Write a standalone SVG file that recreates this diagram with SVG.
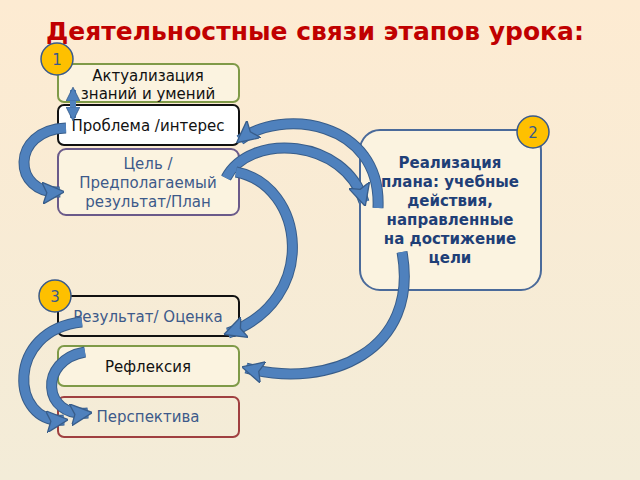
<svg xmlns="http://www.w3.org/2000/svg" width="640" height="480" viewBox="0 0 640 480">
<defs>
<linearGradient id="bg" x1="0" y1="0" x2="0" y2="1"><stop offset="0" stop-color="#fdebd2"/><stop offset="1" stop-color="#f3ecd8"/></linearGradient>
<marker id="ah" viewBox="0 0 10 10" refX="8" refY="5" markerWidth="22" markerHeight="22" markerUnits="userSpaceOnUse" orient="auto-start-reverse"><path d="M0,0 L10,5 L0,10 L2,5 Z" fill="#4f81bd" stroke="#385d8a" stroke-width="0.6"/></marker>
<marker id="ahs" viewBox="0 0 10 10" refX="8" refY="5" markerWidth="14" markerHeight="14" markerUnits="userSpaceOnUse" orient="auto-start-reverse"><path d="M0,0 L10,5 L0,10 Z" fill="#4f81bd" stroke="#385d8a" stroke-width="0.6"/></marker>
</defs>
<style>
text{font-family:"DejaVu Sans","Noto Sans",sans-serif;text-anchor:middle}
.box{stroke-width:2}
.t{font-size:15px}
.num{fill:#fec000;stroke:#3a5a8a;stroke-width:1.5}
.c{fill:none;stroke:#4f81bd;stroke-width:9;stroke-linecap:butt;marker-end:url(#ah)}
.co{fill:none;stroke:#385d8a;stroke-width:11}
</style>
<rect width="640" height="480" fill="url(#bg)"/>
<text x="315" y="40" font-size="25" font-weight="bold" fill="#c00000">Деятельностные связи этапов урока:</text>
<g id="n1"><rect class="box" x="58" y="64" width="181" height="38" rx="6" fill="#fbf3e0" stroke="#7f9a48"/><text class="t" x="148" y="81" fill="#111">Актуализация</text><text class="t" x="148" y="99" fill="#111">знаний и умений</text></g>
<g id="n2"><rect class="box" x="58" y="105" width="181" height="40" rx="6" fill="#fff" stroke="#111"/><text class="t" x="148" y="131" fill="#111">Проблема /интерес</text></g>
<g id="n3"><rect class="box" x="58" y="149" width="181" height="66" rx="8" fill="#fbf3e0" stroke="#6a5a8a"/><text class="t" x="148" y="169" fill="#3d5a8a">Цель /</text><text class="t" x="148" y="188" fill="#3d5a8a">Предполагаемый</text><text class="t" x="148" y="207" fill="#3d5a8a">результат/План</text></g>
<g id="n4"><rect class="box" x="360" y="130" width="181" height="160" rx="20" fill="#fbf3e0" stroke="#4a6a9a"/><g font-weight="bold" fill="#1f3f77" font-size="15"><text x="450" y="168">Реализация</text><text x="450" y="187">плана: учебные</text><text x="450" y="206">действия,</text><text x="450" y="225">направленные</text><text x="450" y="244">на достижение</text><text x="450" y="263">цели</text></g></g>
<g id="n5"><rect class="box" x="58" y="296" width="181" height="40" rx="6" fill="none" stroke="#111"/><text class="t" x="148" y="322" fill="#3d5a8a">Результат/ Оценка</text></g>
<g id="n6"><rect class="box" x="58" y="346" width="181" height="40" rx="6" fill="#fbf3e0" stroke="#7f9a48"/><text class="t" x="148" y="372" fill="#111">Рефлексия</text></g>
<g id="n7"><rect class="box" x="58" y="397" width="181" height="40" rx="6" fill="none" stroke="#a04040"/><text class="t" x="148" y="422" fill="#3d5a8a">Перспектива</text></g>
<g id="badges">
<circle class="num" cx="57" cy="59" r="16"/><text x="57" y="65" font-size="15" fill="#3a5a8a">1</text>
<circle class="num" cx="533" cy="132" r="16"/><text x="533" y="138" font-size="15" fill="#3a5a8a">2</text>
<circle class="num" cx="55" cy="296" r="16"/><text x="55" y="302" font-size="15" fill="#3a5a8a">3</text>
</g>
<g id="connectors">
<path d="M73,90 L73,118" fill="none" stroke="#4f81bd" stroke-width="6" marker-start="url(#ahs)" marker-end="url(#ahs)"/>
<path class="co" d="M66,128 C10,130 12,195 60,192"/><path class="c" d="M66,128 C10,130 12,195 60,192"/>
<path class="co" d="M378,208 C382,120 280,108 240,140"/><path class="c" d="M378,208 C382,120 280,108 240,140"/>
<path class="co" d="M226,178 C250,132 345,138 364,202"/><path class="c" d="M226,178 C250,132 345,138 364,202"/>
<path class="co" d="M236,172 C305,185 320,300 228,333"/><path class="c" d="M236,172 C305,185 320,300 228,333"/>
<path class="co" d="M402,252 C420,350 330,390 246,368"/><path class="c" d="M402,252 C420,350 330,390 246,368"/>
<path class="co" d="M82,322 C5,330 10,425 64,420"/><path class="c" d="M82,322 C5,330 10,425 64,420"/>
<path class="co" d="M85,352 C38,360 42,418 88,413"/><path class="c" d="M85,352 C38,360 42,418 88,413"/>
</g>
</svg>
